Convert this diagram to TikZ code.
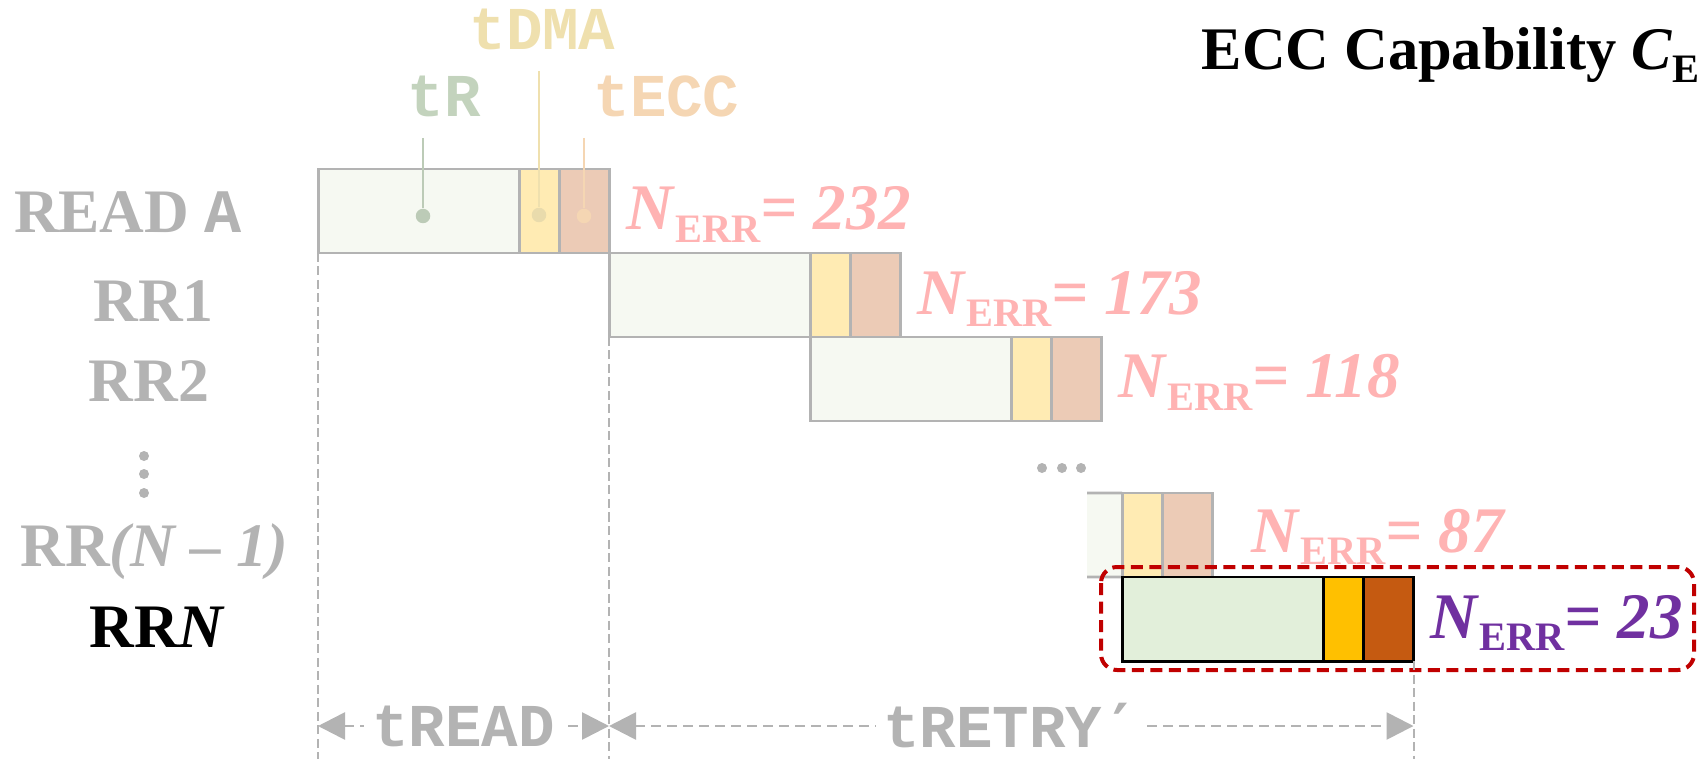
\documentclass[tikz,border=0pt]{standalone}
\usepackage{fontspec}
\setmainfont{Liberation Serif}
\setmonofont{Liberation Mono}
\newfontfamily\primefont{DejaVu Sans Mono}
\usetikzlibrary{positioning,arrows.meta}
\definecolor{FadeGray}{HTML}{B3B3B3}
\definecolor{FadeRead}{HTML}{F6F9F2}
\definecolor{FadeDMA}{HTML}{FFEBB3}
\definecolor{FadeECC}{HTML}{ECCBB6}
\definecolor{ReadGreen}{HTML}{E2EFDA}
\definecolor{DMAGold}{HTML}{FFC000}
\definecolor{ECCRust}{HTML}{C55A11}
\definecolor{ErrPink}{HTML}{FFB3B3}
\definecolor{ErrPurple}{HTML}{7030A0}
\definecolor{FocusRed}{HTML}{C00000}
\definecolor{TagRead}{HTML}{C3D3BD}
\definecolor{TagDMA}{HTML}{EFE0AE}
\definecolor{TagECC}{HTML}{F5D6B3}
\newcommand{\errsub}[1]{\raisebox{-3.6pt}{\fontsize{11.5}{11.5}\selectfont\bfseries #1}}
\newcommand{\nerr}[1]{\textbf{\textit{N}\errsub{ERR}\textit{= #1}}}
\tikzset{
    seg/.style={rectangle, draw=FadeGray, line width=0.85pt, inner sep=0pt, outer sep=0pt, minimum height=8.4mm, anchor=north west},
    rseg/.style={seg, minimum width=20.1mm, fill=FadeRead},
    dseg/.style={seg, minimum width=4.05mm, fill=FadeDMA},
    eseg/.style={seg, minimum width=5mm, fill=FadeECC},
    rowlabel/.style={font=\fontsize{17.6}{20}\selectfont\bfseries, text=FadeGray, inner sep=0pt, anchor=base},
    errlabel/.style={font=\fontsize{18.5}{22}\selectfont, text=ErrPink, inner sep=0pt, anchor=base west},
    tag/.style={font=\fontsize{17.3}{20}\selectfont\ttfamily\bfseries, inner sep=0pt, anchor=base}
}

\begin{document}
\begin{tikzpicture}[
        x=0.1mm, y=-0.1mm,
        % Punkte an den Beschriftungslinien
        tagdot/.style={circle, inner sep=0pt, minimum size=1.45mm},
        tagline/.style={line width=0.2mm},
        % Hilfslinien und Zeitspannen
        guide/.style={FadeGray, line width=0.2mm, dash pattern=on 0.9mm off 0.45mm},
        span arrow/.style={FadeGray, line width=0.27mm, dash pattern=on 1mm off 0.6mm,
            {Triangle[length=2.7mm, width=2.7mm]}-{Triangle[length=2.7mm, width=2.7mm]}},
        spanlabel/.style={fill=white, inner xsep=0.8mm, inner ysep=0pt, text=FadeGray,
            font=\fontsize{17.3}{20}\selectfont\ttfamily\bfseries},
        focus/.style={FocusRed, line width=0.4mm, dash pattern=on 1.2mm off 0.65mm, rounded corners=1.6mm}
    ]
    \useasboundingbox (0,0) rectangle (1697,759);

    % --- Titel ---
    \node[anchor=base west, inner sep=0pt, font=\fontsize{17.2}{20}\selectfont\bfseries] (title) at (1201,70)
        {ECC Capability \textit{C}\errsub{ECC}};

    % --- Zeilenbeschriftungen ---
    \node[rowlabel] (lab-rda) at (128,233) {READ \texttt{A}};
    \node[rowlabel] (lab-rr1) at (153.7,321.7) {RR1};
    \node[rowlabel] (lab-rr2) at (149,401.7) {RR2};
    \foreach \yy in {456,474,493}
        \fill[FadeGray] (144,\yy) circle[radius=0.5mm];
    \node[rowlabel] (lab-rrm) at (154.5,566.7) {RR\textit{(N – 1)}};
    \node[rowlabel, text=black] (lab-rrn) at (157.5,647.7) {RR\textit{N}};

    % --- blasse Zeilen: tR | tDMA | tECC ---
    \foreach \row/\x/\y/\n in {rda/318/169/232, rr1/609/253/173, rr2/810/337/118} {
        \node[rseg] (\row-r) at (\x,\y) {};
        \node[dseg] (\row-d) at (\row-r.north east) {};
        \node[eseg] (\row-e) at (\row-d.north east) {};
        \node[errlabel] (\row-err) at ([shift={(16,19)}]\row-e.east) {\nerr{\n}};
    }

    % --- Auslassung ---
    \foreach \xx in {1042,1062,1081}
        \fill[FadeGray] (\xx,468) circle[radius=0.5mm];

    % --- RR(N-1), links angeschnitten ---
    \fill[FadeRead] (1087,493) rectangle (1122,577);
    \node[dseg] (rrm-d) at (1122,493) {};
    \node[eseg] (rrm-e) at (rrm-d.north east) {};
    \draw[FadeGray, line width=0.85pt] (1087,493) -- (rrm-d.north west) (1087,577) -- (rrm-d.south west);
    \node[errlabel] (rrm-err) at ([shift={(38,17)}]rrm-e.east) {\nerr{87}};

    % --- RRN ---
    \node[rseg, draw=black, fill=ReadGreen] (rrn-r) at (1122,577) {};
    \node[dseg, draw=black, fill=DMAGold] (rrn-d) at (rrn-r.north east) {};
    \node[eseg, draw=black, fill=ECCRust] (rrn-e) at (rrn-d.north east) {};
    \node[errlabel, text=ErrPurple] (rrn-err) at ([shift={(16,19)}]rrn-e.east) {\nerr{23}};
    \draw[focus] ([shift={(-21,-10)}]rrn-r.north west) rectangle (1694,670);

    % --- Beschriftung der Phasen ---
    \node[tag, text=TagDMA] (tag-dma) at (542.5,49.3) {tDMA};
    \node[tag, text=TagRead] (tag-r) at (444,116.7) {tR};
    \node[tag, text=TagECC] (tag-ecc) at (666.5,116.7) {tECC};
    \coordinate (tag-r-top) at (423,138);
    \coordinate (tag-dma-top) at (539,71);
    \coordinate (tag-ecc-top) at (584,138);
    \node[tagdot, fill=TagRead!90!gray] (dot-r) at (423,216) {};
    \node[tagdot, fill=TagDMA!95!gray] (dot-dma) at (539,215) {};
    \node[tagdot, fill=TagECC] (dot-ecc) at (584,216) {};
    \draw[tagline, TagRead!90!gray] (tag-r-top) -- (dot-r);
    \draw[tagline, TagDMA] (tag-dma-top) -- (dot-dma);
    \draw[tagline, TagECC] (tag-ecc-top) -- (dot-ecc);

    % --- Hilfslinien und Zeitspannen ---
    \coordinate (floor) at (0,759);
    \coordinate (span) at (0,726);
    \draw[guide] (rda-r.south west) -- (rda-r.south west |- floor);
    \draw[guide] (rr1-r.south west) -- (rr1-r.south west |- floor);
    \draw[guide] (rrn-e.south east) -- (rrn-e.south east |- floor);
    \draw[span arrow] (rda-r.south west |- span) -- (rr1-r.south west |- span)
        node[midway, spanlabel] (lab-tread) {tREAD};
    \draw[span arrow] (rr1-r.south west |- span) -- (rrn-e.south east |- span)
        node[midway, spanlabel] (lab-tretry) {tRETRY{\primefont\bfseries ′}};
\end{tikzpicture}
\end{document}
